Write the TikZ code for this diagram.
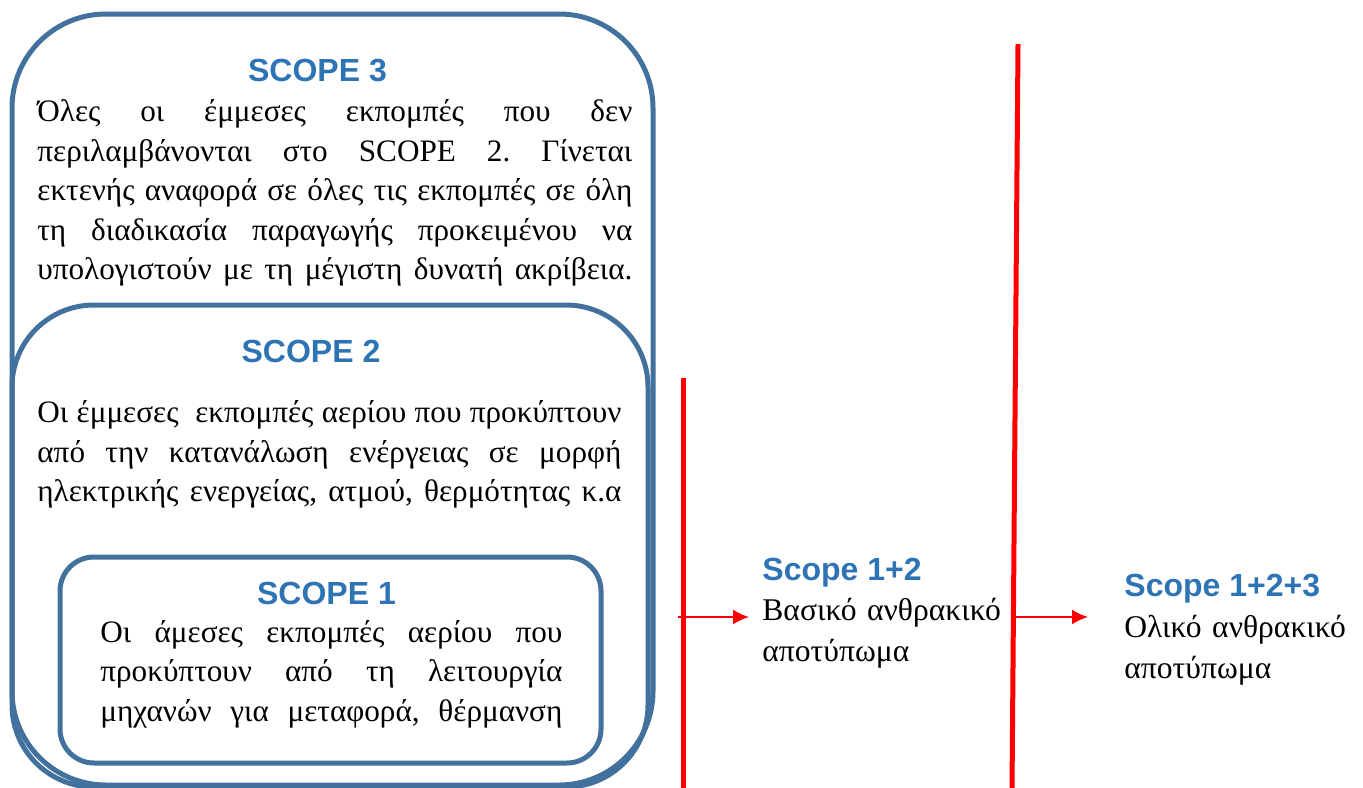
\documentclass[tikz,border=0pt]{standalone}
\usepackage{fontspec}
\setmainfont{Liberation Serif}
\newfontfamily\headfont{Liberation Sans}
\usetikzlibrary{arrows.meta}
\frenchspacing
\definecolor{boxblue}{RGB}{65,113,156}
\definecolor{headblue}{RGB}{46,116,181}
\tikzset{
  scopebox/.style = {draw=boxblue, line width=2.5pt},
  heading/.style = {font=\headfont\bfseries\fontsize{16}{19}\selectfont, text=headblue, inner sep=0pt},
  bodytext/.style = {font=\fontsize{15.6}{19.75}\selectfont, align=justify, inner sep=0pt, anchor=base west},
  sidetext/.style = {font=\fontsize{15.8}{20.5}\selectfont, align=left, inner sep=0pt, anchor=base west, text width=140pt},
  redline/.style = {draw=red, line width=2.5pt},
  redarrow/.style = {draw=red, line width=1pt, -{Latex[length=8pt,width=7.5pt]}}
}

\begin{document}
\begin{tikzpicture}[x=0.5pt,y=-0.5pt]
  \useasboundingbox (0,0) rectangle (1363,787);
  % scope boxes
  \draw[scopebox, rounded corners=47pt] (12,14) rectangle (653,785);
  \draw[scopebox, rounded corners=41pt] (12,305) rectangle (648,787);
  \draw[scopebox, rounded corners=17pt] (60,557) rectangle (601,763);
  % scope 3
  \node (s3) at (317.5,81.7) [heading, anchor=base] {SCOPE 3};
  \node (s3text) at (37,121.7) [bodytext, text width=297.5pt] {%
    Όλες οι έμμεσες εκπομπές που δεν\linebreak
    περιλαμβάνονται στο SCOPE 2. Γίνεται\linebreak
    εκτενής αναφορά σε όλες τις εκπομπές σε όλη\linebreak
    τη διαδικασία παραγωγής προκειμένου να\linebreak
    υπολογιστούν με τη μέγιστη δυνατή ακρίβεια.\parfillskip=0pt\par};
  % scope 2
  \node (s2) at (311,362.7) [heading, anchor=base] {SCOPE 2};
  \node (s2text) at (37,422.7) [bodytext, text width=292pt] {%
    Οι έμμεσες \ εκπομπές αερίου που προκύπτουν\linebreak
    από την κατανάλωση ενέργειας σε μορφή\linebreak
    ηλεκτρικής ενεργείας, ατμού, θερμότητας κ.α\parfillskip=0pt\par};
  % scope 1
  \node (s1) at (326.5,604.3) [heading, anchor=base] {SCOPE 1};
  \node (s1text) at (100,642.3) [bodytext, text width=231pt] {%
    Οι άμεσες εκπομπές αερίου που\linebreak
    προκύπτουν από τη λειτουργία\linebreak
    μηχανών για μεταφορά, θέρμανση\parfillskip=0pt\par};
  % red bars
  \coordinate (bar1top) at (683,378);
  \coordinate (bar1bot) at (683,790);
  \coordinate (bar2top) at (1018,44);
  \coordinate (bar2bot) at (1012,790);
  \draw[redline] (bar1top) -- (bar1bot);
  \draw[redline] (bar2top) -- (bar2bot);
  % scope 1+2
  \node (s12) at (762,580) [heading, anchor=base west] {Scope 1+2};
  \node (s12text) at (762,620.7) [sidetext] {Βασικό ανθρακικό\\αποτύπωμα};
  \coordinate (arr1) at (678,617);
  \coordinate (tip1) at (749,617);
  \draw[redarrow] (arr1) -- (tip1);
  % scope 1+2+3
  \node (s123) at (1124,596) [heading, anchor=base west] {Scope 1+2+3};
  \node (s123text) at (1124,637) [sidetext] {Ολικό ανθρακικό\\αποτύπωμα};
  \coordinate (arr2) at (1014,617);
  \coordinate (tip2) at (1088,617);
  \draw[redarrow] (arr2) -- (tip2);
\end{tikzpicture}
\end{document}
